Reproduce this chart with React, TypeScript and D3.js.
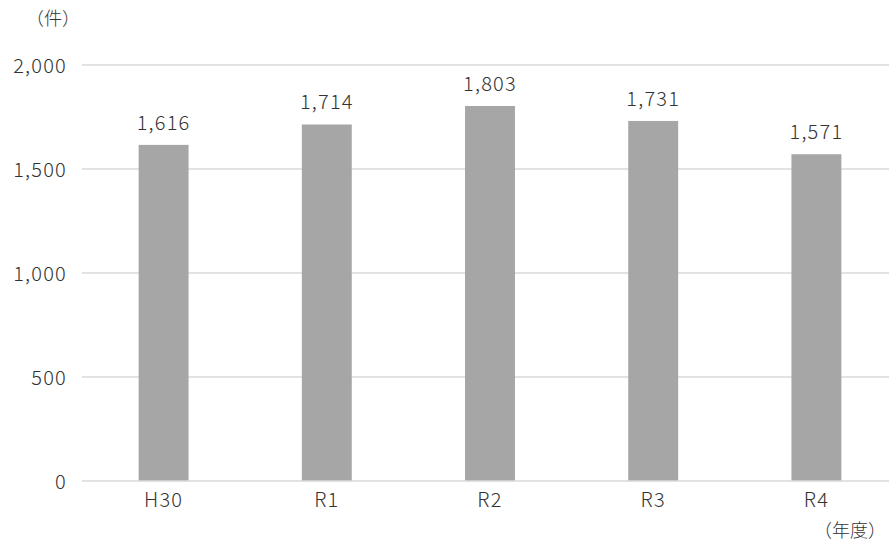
import React, { useEffect, useRef } from "react";
import * as d3 from "d3";

const categories = ["H30", "R1", "R2", "R3", "R4"];
const values = [1616, 1714, 1803, 1731, 1571];
const yTicks = [0, 500, 1000, 1500, 2000];

const W = 889;
const H = 543;
const FONT = "'Noto Sans CJK JP', 'Noto Sans', sans-serif";
const TEXT = "#333333";

export default function App() {
  const ref = useRef<SVGSVGElement | null>(null);

  useEffect(() => {
    const svg = d3.select(ref.current);
    svg.selectAll("*").remove();

    const x = d3.scaleBand<string>().domain(categories).range([82, 898]).paddingInner(0.694).paddingOuter(0.347);
    const y = d3.scaleLinear().domain([0, 2000]).range([481, 65]);

    const g = svg.append("g").attr("font-weight", 300);

    g.selectAll("line.grid")
      .data(yTicks.filter((t) => t > 0))
      .join("line")
      .attr("x1", 82)
      .attr("x2", W)
      .attr("y1", (d) => y(d))
      .attr("y2", (d) => y(d))
      .attr("stroke", "#d9d9d9")
      .attr("stroke-width", 1.3);

    g.selectAll("text.ytick")
      .data(yTicks)
      .join("text")
      .attr("x", 67)
      .attr("y", (d) => y(d) + 1)
      .attr("dy", "0.35em")
      .attr("text-anchor", "end")
      .attr("font-family", FONT)
      .attr("font-size", 20)
      .attr("letter-spacing", 1.2)
      .attr("fill", TEXT)
      .text((d) => d3.format(",")(d));

    g.selectAll("rect.bar")
      .data(values)
      .join("rect")
      .attr("x", (_, i) => x(categories[i])!)
      .attr("y", (d) => y(d))
      .attr("width", x.bandwidth())
      .attr("height", (d) => y(0) - y(d))
      .attr("fill", "#a6a6a6");

    g.append("line")
      .attr("x1", 82)
      .attr("x2", W)
      .attr("y1", y(0))
      .attr("y2", y(0))
      .attr("stroke", "#d9d9d9")
      .attr("stroke-width", 1.3);

    g.selectAll("text.val")
      .data(values)
      .join("text")
      .attr("x", (_, i) => x(categories[i])! + x.bandwidth() / 2)
      .attr("y", (d) => y(d) - 22)
      .attr("dy", "0.35em")
      .attr("text-anchor", "middle")
      .attr("font-family", FONT)
      .attr("font-size", 20)
      .attr("letter-spacing", 1.2)
      .attr("fill", TEXT)
      .text((d) => d3.format(",")(d));

    g.selectAll("text.cat")
      .data(categories)
      .join("text")
      .attr("x", (d) => x(d)! + x.bandwidth() / 2)
      .attr("y", 500)
      .attr("dy", "0.35em")
      .attr("text-anchor", "middle")
      .attr("font-family", FONT)
      .attr("font-size", 20)
      .attr("letter-spacing", 1.2)
      .attr("fill", TEXT)
      .text((d) => d);

    g.append("text")
      .attr("x", 53)
      .attr("y", 19)
      .attr("dy", "0.35em")
      .attr("text-anchor", "middle")
      .attr("font-family", FONT)
      .attr("font-size", 18)
      .attr("fill", TEXT)
      .text("（件）");

    g.append("text")
      .attr("x", 850)
      .attr("y", 531)
      .attr("dy", "0.35em")
      .attr("text-anchor", "middle")
      .attr("font-family", FONT)
      .attr("font-size", 18)
      .attr("fill", TEXT)
      .text("（年度）");
  }, []);

  return (
    <svg
      ref={ref}
      width={W}
      height={H}
      style={{ position: "fixed", left: 0, top: 0, background: "#fff" }}
    />
  );
}
